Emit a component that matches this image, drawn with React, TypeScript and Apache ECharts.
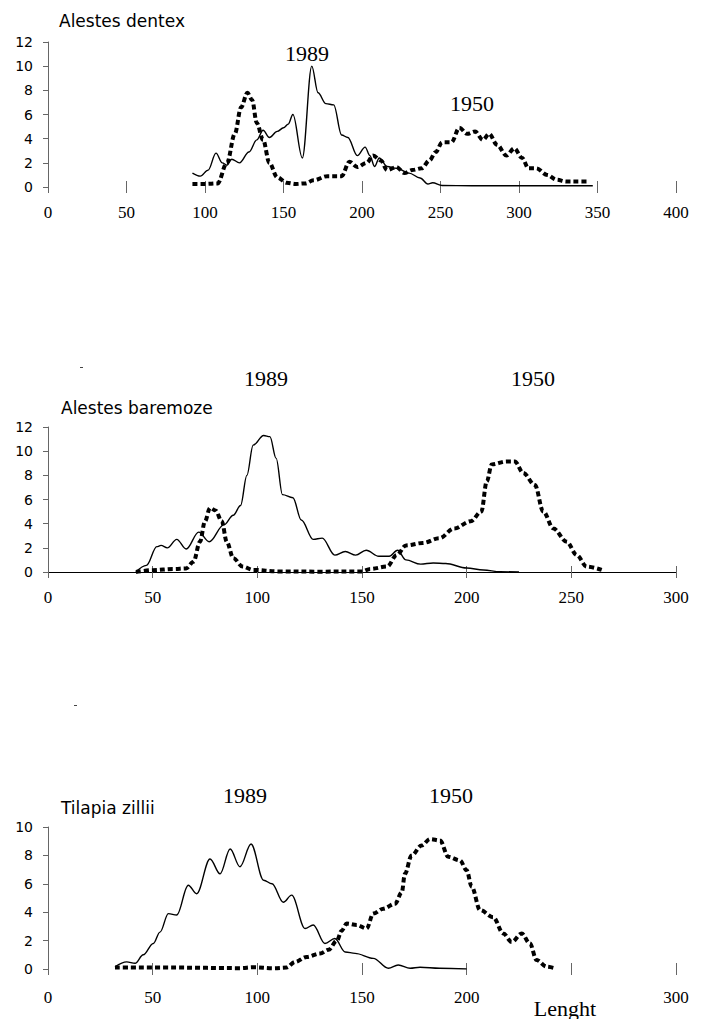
import React, { useEffect, useRef } from "react";
import * as echarts from "echarts";

// ---- Data (length, frequency %) ----
const dentex1989: [number, number][] = [
  [92, 1.15], [97, 0.9], [102, 1.4], [107, 2.8], [111, 2.0], [114, 1.8], [117, 2.3], [122, 2.0],
  [128, 2.9], [133, 3.9], [137, 4.7], [141, 4.1], [146, 4.6], [150, 4.9], [153, 5.2], [156, 6.0],
  [162, 2.4], [168, 10.0], [172, 7.8], [177, 6.9], [182, 6.8], [187, 4.3], [191, 4.1], [197, 2.6],
  [202, 3.3], [205, 2.6], [208, 1.7], [211, 2.4], [216, 1.7], [222, 1.55], [230, 1.15], [237, 0.75],
  [242, 0.25], [245, 0.35], [251, 0.12], [270, 0.1], [300, 0.1], [325, 0.1], [347, 0.1],
];
const dentex1950: [number, number][] = [
  [92, 0.25], [100, 0.25], [108, 0.3], [114, 2.0], [119, 4.4], [123, 6.6], [127, 7.8], [130, 7.2],
  [133, 5.3], [137, 3.9], [141, 2.0], [146, 0.8], [152, 0.35], [158, 0.25], [164, 0.3], [169, 0.55],
  [178, 0.9], [187, 0.9], [192, 2.1], [197, 1.65], [203, 2.0], [207, 2.6], [212, 2.2], [216, 1.4],
  [222, 1.65], [227, 1.15], [232, 1.4], [238, 1.55], [243, 2.2], [247, 2.9], [251, 3.7], [257, 3.7],
  [262, 4.9], [267, 4.4], [272, 4.6], [277, 3.9], [281, 4.4], [286, 3.5], [292, 2.6], [297, 3.2],
  [302, 2.4], [306, 1.55], [311, 1.55], [318, 1.0], [324, 0.6], [330, 0.45], [337, 0.45], [343, 0.45],
];

const baremoze1989: [number, number][] = [
  [42, 0.0], [47, 0.55], [52, 2.1], [54, 2.2], [57, 2.0], [61.5, 2.7], [66, 1.9], [72, 3.3],
  [77, 2.5], [84, 3.9], [88.5, 4.7], [92, 5.5], [95, 8.0], [98, 10.5], [103, 11.3], [106, 11.2],
  [109, 9.4], [112, 6.4], [117, 6.15], [121, 4.3], [126.7, 2.7], [131, 2.8], [137, 1.4], [142, 1.7],
  [147, 1.4], [152, 1.8], [158, 1.3], [163, 1.3], [167, 1.8], [171, 1.0], [178, 0.65], [184, 0.75],
  [190, 0.7], [200, 0.33], [208, 0.17], [216, 0.02], [225, 0.0],
];
const baremoze1950: [number, number][] = [
  [42, 0.0], [50, 0.15], [60, 0.25], [66, 0.3], [69.5, 0.85], [72.6, 2.5], [75, 4.2], [77.4, 5.3],
  [80, 5.1], [83, 4.2], [85.4, 2.5], [88.5, 1.15], [93, 0.45], [98, 0.17], [110, 0.05], [130, 0.03],
  [150, 0.05], [154, 0.25], [162, 0.45], [166.6, 1.4], [171, 2.2], [179, 2.4], [187, 2.8], [194, 3.6],
  [202, 4.2], [207, 5.0], [209.6, 7.5], [212, 8.9], [219, 9.15], [223, 9.15], [227, 8.2], [232.6, 7.2],
  [236.6, 5.0], [241.4, 3.6], [247.8, 2.5], [252.6, 1.4], [257.3, 0.45], [264.5, 0.17],
];

const zillii1989: [number, number][] = [
  [32, 0.16], [37.6, 0.5], [41.6, 0.4], [45.5, 1.0], [50.3, 1.8], [53.5, 2.6], [57.5, 3.9], [61.5, 3.8],
  [67, 5.9], [71, 5.3], [77.4, 7.75], [82.2, 6.7], [87, 8.45], [91.7, 7.2], [97, 8.8], [103, 6.25],
  [107, 6.0], [112.4, 4.7], [116.4, 5.2], [122.8, 2.85], [126.7, 3.1], [132.3, 1.8], [137, 2.15],
  [142, 1.2], [146.7, 1.1], [155.4, 0.75], [162.6, 0.05], [167.3, 0.28], [173, 0.05], [177.7, 0.12],
  [187, 0.05], [200, 0.0],
];
const zillii1950: [number, number][] = [
  [32, 0.1], [60, 0.1], [92, 0.06], [98, 0.12], [107.6, 0.05], [114, 0.1], [118, 0.5], [123.6, 0.85],
  [130, 1.1], [134, 1.35], [138, 2.0], [140.3, 2.7], [142.7, 3.2], [147.5, 3.1], [152.2, 2.85],
  [155.4, 3.9], [160.2, 4.25], [165.8, 4.6], [169, 5.4], [170.5, 6.7], [173.7, 8.0], [178.5, 8.7],
  [182.5, 9.15], [187.3, 9.05], [191.2, 7.9], [196.8, 7.65], [200, 6.95], [202.4, 5.8], [206.4, 4.15],
  [212.7, 3.65], [217.5, 2.5], [221.5, 1.9], [226.3, 2.5], [230.2, 1.8], [233.4, 0.63], [238.2, 0.16],
  [242.2, 0.05],
];

const topXTicks = [0, 50, 100, 150, 200, 250, 300, 350, 400];
const midXTicks = [0, 50, 100, 150, 200, 250, 300];
const bottomXTickLabels = ["0", "50", "100", "150", "200", "", "300"];
const yTicks12 = [0, 2, 4, 6, 8, 10, 12];
const yTicks10 = [0, 2, 4, 6, 8, 10];

const speciesNames = ["Alestes dentex", "Alestes baremoze", "Tilapia zillii"];
const yearLabels = ["1989", "1950"];
const xAxisName = "Lenght";

const SERIF = "Liberation Serif";
const SANS = "DejaVu Sans";

export default function App() {
  const ref = useRef<HTMLDivElement>(null);

  useEffect(() => {
    if (!ref.current) return;
    const chart = echarts.init(ref.current, undefined, { renderer: "svg" });

    const grids = [
      { left: 48, top: 42, width: 628, height: 145 },
      { left: 48, top: 427, width: 628, height: 145 },
      { left: 48, top: 827, width: 628, height: 142 },
    ];

    // axis carrying labels and downward ticks
    const labelX = (gi: number, max: number, showLine: boolean, margin: number, fmt?: (v: number) => string) => ({
      type: "value",
      gridIndex: gi,
      min: 0,
      max,
      interval: 50,
      splitLine: { show: false },
      axisLine: { show: showLine, lineStyle: { color: "#000", width: 1 } },
      axisTick: { show: true, inside: false, length: 6, lineStyle: { color: "#666", width: 1 } },
      axisLabel: {
        show: true,
        margin,
        color: "#000",
        fontFamily: SERIF,
        fontSize: 17,
        formatter: fmt ? fmt : "{value}",
      },
    });
    // companion axis giving the upward half of the cross ticks
    const tickX = (gi: number, max: number) => ({
      type: "value",
      gridIndex: gi,
      position: "bottom",
      offset: 0,
      min: 0,
      max,
      interval: 50,
      splitLine: { show: false },
      axisLine: { show: false },
      axisTick: { show: true, inside: true, length: 6, lineStyle: { color: "#666", width: 1 } },
      axisLabel: { show: false },
    });

    const mkY = (gi: number, max: number, ticks: number[]) => ({
      type: "value",
      gridIndex: gi,
      min: ticks[0],
      max,
      interval: 2,
      splitLine: { show: false },
      axisLine: { show: true, lineStyle: { color: "#666", width: 1 } },
      axisTick: { show: true, length: 5, lineStyle: { color: "#666", width: 1 } },
      axisLabel: { margin: 15, color: "#000", fontFamily: SANS, fontSize: 14 },
    });

    const solid = (xi: number, yi: number, data: [number, number][], name: string) => ({
      type: "line",
      name,
      xAxisIndex: xi,
      yAxisIndex: yi,
      data,
      showSymbol: false,
      smooth: 0.35,
      smoothMonotone: "x",
      lineStyle: { color: "#000", width: 1.4 },
      z: 3,
    });
    const dashed = (xi: number, yi: number, data: [number, number][], name: string) => ({
      type: "line",
      name,
      xAxisIndex: xi,
      yAxisIndex: yi,
      data,
      showSymbol: false,
      smooth: 0.35,
      smoothMonotone: "x",
      lineStyle: { color: "#000", width: 4, type: [5, 3], cap: "butt" },
      z: 2,
    });

    const bottomFmt = (v: number) => {
      const i = midXTicks.indexOf(v);
      return i >= 0 ? bottomXTickLabels[i] : "";
    };

    const txt = (text: string, x: number, y: number, size: number, family: string, align = "center") => ({
      type: "text",
      x,
      y,
      style: {
        text,
        fill: "#000",
        fontSize: size,
        fontFamily: family,
        textAlign: align,
        textVerticalAlign: "middle",
      },
    });

    chart.setOption({
      animation: false,
      backgroundColor: "#fff",
      grid: grids,
      xAxis: [
        labelX(0, topXTicks[topXTicks.length - 1], false, 17),
        tickX(0, topXTicks[topXTicks.length - 1]),
        labelX(1, midXTicks[midXTicks.length - 1], true, 17),
        tickX(1, midXTicks[midXTicks.length - 1]),
        labelX(2, midXTicks[midXTicks.length - 1], false, 20, bottomFmt),
        tickX(2, midXTicks[midXTicks.length - 1]),
      ],
      yAxis: [
        mkY(0, yTicks12[yTicks12.length - 1], yTicks12),
        mkY(1, yTicks12[yTicks12.length - 1], yTicks12),
        mkY(2, yTicks10[yTicks10.length - 1], yTicks10),
      ],
      series: [
        dashed(0, 0, dentex1950, "1950"),
        solid(0, 0, dentex1989, "1989"),
        dashed(2, 1, baremoze1950, "1950"),
        solid(2, 1, baremoze1989, "1989"),
        dashed(4, 2, zillii1950, "1950"),
        solid(4, 2, zillii1989, "1989"),
      ],
      graphic: [
        txt(speciesNames[0], 59, 21, 17, SANS, "left"),
        txt(yearLabels[0], 307, 53, 22, SERIF),
        txt(yearLabels[1], 472, 103, 22, SERIF),
        txt(yearLabels[0], 266, 378, 22, SERIF),
        txt(yearLabels[1], 533, 378, 22, SERIF),
        txt(speciesNames[1], 61, 408, 17, SANS, "left"),
        txt(yearLabels[0], 245, 795, 22, SERIF),
        txt(yearLabels[1], 451, 795, 22, SERIF),
        txt(speciesNames[2], 61, 808, 17, SANS, "left"),
        txt(xAxisName, 565, 1008, 22, SERIF),
        { type: "rect", shape: { x: 80, y: 367, width: 3, height: 1 }, style: { fill: "#444" } },
        { type: "rect", shape: { x: 74, y: 705, width: 3, height: 1 }, style: { fill: "#444" } },
      ],
    });

    return () => chart.dispose();
  }, []);

  return (
    <div
      ref={ref}
      style={{ position: "fixed", left: 0, top: 0, width: 705, height: 1019, background: "#fff" }}
    />
  );
}
